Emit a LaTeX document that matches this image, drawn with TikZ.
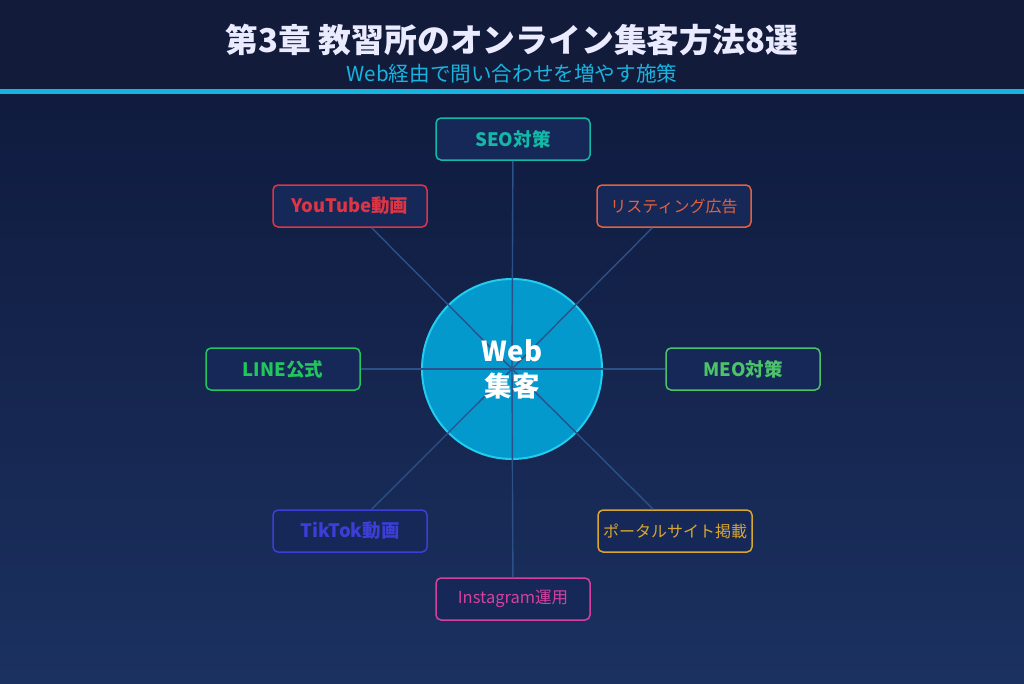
\documentclass[tikz,border=0pt]{standalone}
\usepackage{fontspec}
\setmainfont{Noto Sans CJK JP}
\usetikzlibrary{positioning,shapes}
\definecolor{bgtop}{HTML}{0E1739}
\definecolor{bgbot}{HTML}{1B3160}
\definecolor{headbg}{HTML}{131B3B}
\definecolor{cyanline}{HTML}{18B4E0}
\definecolor{boxfill}{HTML}{162858}
\definecolor{spoke}{HTML}{2C5088}
\definecolor{hubfill}{HTML}{0399CC}
\definecolor{hubline}{HTML}{22CCEE}
\definecolor{cseo}{HTML}{14B8A6}
\definecolor{cyt}{HTML}{DC3545}
\definecolor{clist}{HTML}{E2623F}
\definecolor{cline}{HTML}{22C55E}
\definecolor{cmeo}{HTML}{4CC26A}
\definecolor{ctik}{HTML}{3B3FD8}
\definecolor{cportal}{HTML}{D9A630}
\definecolor{cinsta}{HTML}{D6409F}
\tikzset{
  method/.style={draw=#1, text=#1, fill=boxfill, line width=1.5pt, rounded corners=5pt,
    minimum width=154pt, minimum height=42pt, inner sep=0pt, font=\fontsize{18.5}{21}\selectfont\bfseries},
  methodthin/.style={method=#1, font=\fontsize{16}{19}\selectfont},
  spokeline/.style={spoke, line width=1.4pt}
}
\begin{document}
\begin{tikzpicture}[x=1pt, y=-1pt]
\useasboundingbox (0,0) rectangle (1024,683);
% background
\shade[top color=bgtop, bottom color=bgbot] (0,0) rectangle (1024,683);
\fill[headbg] (0,0) rectangle (1024,89);
\fill[cyanline] (0,89) rectangle (1024,94);
% titles
\node[text=white!92!blue, font=\fontsize{32.8}{38}\selectfont\bfseries] (title) at (512,40) {第3章 教習所のオンライン集客方法8選};
\node[text=cyanline, font=\fontsize{20.6}{24}\selectfont] (subtitle) at (512,74) {Web経由で問い合わせを増やす施策};
% hub
\node[circle, fill=hubfill, draw=hubline, line width=2pt, minimum size=180pt, inner sep=0pt] (hub) at (512,369) {};
% methods
\node[method=cseo] (seo) at (513,139) {SEO対策};
\node[method=cyt] (yt) at (350,206) {YouTube動画};
\node[methodthin=clist] (list) at (674,206) {リスティング広告};
\node[method=cline] (line) at (283,369) {LINE公式};
\node[method=cmeo] (meo) at (743,369) {MEO対策};
\node[method=ctik] (tik) at (350,531) {TikTok動画};
\node[methodthin=cportal] (portal) at (675,531) {ポータルサイト掲載};
\node[methodthin=cinsta, font=\fontsize{16.5}{19}\selectfont] (insta) at (513,599) {Instagram運用};
% spokes
\draw[spokeline] (hub.center) -- (seo);
\draw[spokeline] (hub.center) -- (yt);
\draw[spokeline] (hub.center) -- (list);
\draw[spokeline] (hub.center) -- (line);
\draw[spokeline] (hub.center) -- (meo);
\draw[spokeline] (hub.center) -- (tik);
\draw[spokeline] (hub.center) -- (portal);
\draw[spokeline] (hub.center) -- (insta);
% hub text
\node[text=white, align=center, font=\fontsize{27.5}{35}\selectfont\bfseries] (hubtext) at (512,369) {Web\\集客};
\end{tikzpicture}
\end{document}
